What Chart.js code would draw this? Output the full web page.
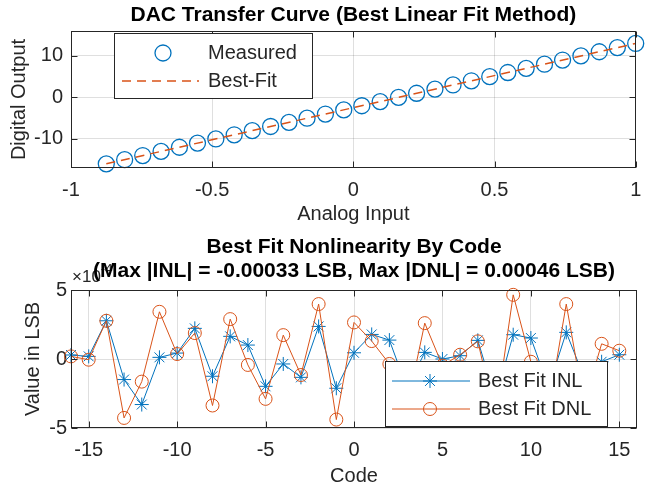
<!DOCTYPE html>
<html>
<head>
<meta charset="utf-8">
<script src="https://cdn.jsdelivr.net/npm/chart.js@4.4.1/dist/chart.umd.min.js"></script>
<style>
  html, body { margin: 0; padding: 0; background: #fff; }
  #wrap { position: relative; width: 645px; height: 495px; }
  canvas { position: absolute; left: 0; }
</style>
</head>
<body>
<div id="wrap">
  <canvas id="transfer" width="645" height="235" style="top:0"></canvas>
  <canvas id="nonlin" width="645" height="260" style="top:235px"></canvas>
</div>
<script>
// ---- data ----
const analogInput = [-0.875, -0.810, -0.746, -0.681, -0.616, -0.552, -0.487, -0.422, -0.358, -0.293,
                     -0.228, -0.164, -0.099, -0.034, 0.030, 0.095, 0.160, 0.224, 0.289, 0.353,
                     0.418, 0.483, 0.547, 0.612, 0.677, 0.741, 0.806, 0.871, 0.935, 1.000];
const measuredOutput = [-16, -15, -14, -13, -12, -11, -10, -9, -8, -7, -6, -5, -4, -3, -2, -1,
                        0, 1, 2, 3, 4, 5, 6, 7, 8, 9, 10, 11, 12, 13];
const fitInput = [-0.875, 1.0];
const fitOutput = [-16, 13];

const codes = [-16, -15, -14, -13, -12, -11, -10, -9, -8, -7, -6, -5, -4, -3, -2, -1,
               0, 1, 2, 3, 4, 5, 6, 7, 8, 9, 10, 11, 12, 13, 14, 15];
// values in units of 1e-4 LSB
const inlE4 = [0.29, 0.19, 2.77, -1.49, -3.30, 0.12, 0.43, 2.22, -1.25, 1.64, 1.01, -1.98, -0.36, -1.33, 2.36, -2.12,
               0.45, 1.78, 1.37, -2.12, 0.48, 0.00, 0.24, 1.35, -2.89, 1.76, 1.52, -2.05, 1.93, -1.30, -0.20, 0.31];
const dnlE4 = [0.19, -0.05, 2.77, -4.27, -1.64, 3.42, 0.36, 1.88, -3.37, 2.89, -0.43, -2.89, 1.73, -1.16, 3.98, -4.39,
               2.65, 1.30, -0.36, -3.49, 2.60, -0.48, 0.31, 1.28, -4.24, 4.65, -0.20, -3.57, 3.98, -3.23, 1.10, 0.60];

const topXTicks = [-1, -0.5, 0, 0.5, 1];
const topYTicks = [-10, 0, 10];
const botXTicks = [-15, -10, -5, 0, 5, 10, 15];
const botYTicks = [-5, 0, 5];

// ---- styling ----
const BLUE = "#0072BD";
const ORANGE = "#D95319";
const INK = "#262626";
const GRID = "rgba(38,38,38,0.15)";
const FONT = "'Liberation Sans', Arial, Helvetica, sans-serif";

Chart.defaults.font.family = FONT;
Chart.defaults.color = INK;

function setTicks(list) {
  return scale => { scale.ticks = list.map(v => ({ value: v })); };
}
const plain = v => String(v);

function drawStar(ctx, x, y, r) {
  ctx.beginPath();
  ctx.moveTo(x - r, y); ctx.lineTo(x + r, y);
  ctx.moveTo(x, y - r); ctx.lineTo(x, y + r);
  const d = r * 0.7071;
  ctx.moveTo(x - d, y - d); ctx.lineTo(x + d, y + d);
  ctx.moveTo(x - d, y + d); ctx.lineTo(x + d, y - d);
  ctx.stroke();
}

function drawCircle(ctx, x, y, r) {
  ctx.beginPath();
  ctx.arc(x, y, r, 0, Math.PI * 2);
  ctx.stroke();
}

// axes box, inward ticks, titles and legend in MATLAB style
function matlabLook(id, cfg) {
  return {
    id: id,
    afterDatasetsDraw(chart) {
      const ctx = chart.ctx;
      const a = chart.chartArea;
      const sx = chart.scales.x, sy = chart.scales.y;
      ctx.save();
      ctx.strokeStyle = INK;
      ctx.lineWidth = 1;
      const L = Math.round(a.left) + 0.5, R = Math.round(a.right) - 0.5;
      const T = Math.round(a.top) + 0.5, B = Math.round(a.bottom) - 0.5;
      ctx.strokeRect(L, T, R - L, B - T);
      ctx.beginPath();
      sx.ticks.forEach(t => {
        const px = Math.round(sx.getPixelForValue(t.value)) + 0.5;
        ctx.moveTo(px, B); ctx.lineTo(px, B - 6);
        ctx.moveTo(px, T); ctx.lineTo(px, T + 6);
      });
      sy.ticks.forEach(t => {
        const py = Math.round(sy.getPixelForValue(t.value)) + 0.5;
        ctx.moveTo(L, py); ctx.lineTo(L + 6, py);
        ctx.moveTo(R, py); ctx.lineTo(R - 6, py);
      });
      ctx.stroke();

      // exponent label
      if (cfg.exponent) {
        ctx.fillStyle = INK;
        ctx.textBaseline = "alphabetic";
        ctx.textAlign = "left";
        ctx.font = "17px " + FONT;
        ctx.fillText("\u00d710", a.left + 1, a.top - 8);
        const w = ctx.measureText("\u00d710").width;
        ctx.font = "13px " + FONT;
        ctx.fillText(cfg.exponent, a.left + 1 + w, a.top - 17);
      }

      // titles
      ctx.fillStyle = "#000";
      ctx.textAlign = "center";
      ctx.textBaseline = "middle";
      ctx.font = "bold 21px " + FONT;
      cfg.titles.forEach(t => ctx.fillText(t.text, (a.left + a.right) / 2, t.y));

      // legend
      const lg = cfg.legend;
      ctx.fillStyle = "#fff";
      ctx.fillRect(lg.x, lg.y, lg.w, lg.h);
      ctx.strokeStyle = INK;
      ctx.strokeRect(lg.x + 0.5, lg.y + 0.5, lg.w, lg.h);
      ctx.font = "20px " + FONT;
      ctx.textAlign = "left";
      ctx.textBaseline = "middle";
      lg.items.forEach(it => {
        it.draw(ctx, it.y);
        ctx.fillStyle = INK;
        ctx.fillText(it.label, lg.textX, it.y);
      });
      ctx.restore();
    }
  };
}

const xFit = s => { s.height = 67; s.paddingLeft = 0; s.paddingRight = 0; };

// ---- top chart: transfer curve ----
new Chart(document.getElementById("transfer"), {
  type: "scatter",
  data: {
    datasets: [
      {
        label: "Best-Fit",
        type: "line",
        data: fitInput.map((x, i) => ({ x: x, y: fitOutput[i] })),
        borderColor: ORANGE,
        borderWidth: 1.5,
        borderDash: [9, 6],
        pointRadius: 0,
        fill: false,
        order: 0
      },
      {
        label: "Measured",
        data: analogInput.map((x, i) => ({ x: x, y: measuredOutput[i] })),
        pointStyle: "circle",
        pointRadius: 8,
        pointBorderWidth: 1.3,
        borderColor: BLUE,
        backgroundColor: "rgba(0,0,0,0)",
        showLine: false,
        clip: false,
        order: 1
      }
    ]
  },
  options: {
    responsive: false,
    animation: false,
    devicePixelRatio: 1,
    layout: { padding: { top: 31, right: 8, left: 0, bottom: 0 } },
    plugins: { legend: { display: false }, tooltip: { enabled: false } },
    scales: {
      x: {
        type: "linear", min: -1, max: 1,
        afterBuildTicks: setTicks(topXTicks),
        afterFit: xFit,
        grid: { color: GRID, drawTicks: false },
        border: { display: false },
        ticks: { font: { size: 20 }, padding: 10, color: INK, callback: plain },
        title: { display: true, text: "Analog Input", font: { size: 20 }, color: INK, padding: { top: 0, bottom: 9 } }
      },
      y: {
        type: "linear", min: -17, max: 16,
        afterBuildTicks: setTicks(topYTicks),
        afterFit: s => { s.width = 71; },
        grid: { color: GRID, drawTicks: false },
        border: { display: false },
        ticks: { font: { size: 20 }, padding: 8, color: INK, callback: plain },
        title: { display: true, text: "Digital Output", font: { size: 20 }, color: INK, padding: { top: 7, bottom: 0 } }
      }
    }
  },
  plugins: [matlabLook("lookTop", {
    titles: [{ text: "DAC Transfer Curve (Best Linear Fit Method)", y: 15 }],
    legend: {
      x: 114, y: 33, w: 198, h: 65, textX: 208,
      items: [
        { label: "Measured", y: 53, draw: (ctx, y) => { ctx.strokeStyle = BLUE; ctx.lineWidth = 1.3; drawCircle(ctx, 163, y, 8); } },
        { label: "Best-Fit", y: 81, draw: (ctx, y) => {
            ctx.strokeStyle = ORANGE; ctx.lineWidth = 1.5; ctx.setLineDash([9, 6]);
            ctx.beginPath(); ctx.moveTo(122, y); ctx.lineTo(199, y); ctx.stroke(); ctx.setLineDash([]);
          } }
      ]
    }
  })]
});

// ---- bottom chart: INL / DNL ----
new Chart(document.getElementById("nonlin"), {
  type: "scatter",
  data: {
    datasets: [
      {
        label: "Best Fit DNL",
        data: codes.map((c, i) => ({ x: c, y: dnlE4[i] })),
        showLine: true,
        borderColor: ORANGE,
        borderWidth: 1,
        pointStyle: "circle",
        pointRadius: 6.5,
        pointBorderWidth: 1,
        backgroundColor: "rgba(0,0,0,0)",
        clip: false,
        order: 0
      },
      {
        label: "Best Fit INL",
        data: codes.map((c, i) => ({ x: c, y: inlE4[i] })),
        showLine: true,
        borderColor: BLUE,
        borderWidth: 1,
        pointStyle: "star",
        pointRadius: 7,
        pointBorderWidth: 1,
        backgroundColor: "rgba(0,0,0,0)",
        clip: false,
        order: 1
      }
    ]
  },
  options: {
    responsive: false,
    animation: false,
    devicePixelRatio: 1,
    layout: { padding: { top: 55, right: 8, left: 0, bottom: 0 } },
    plugins: { legend: { display: false }, tooltip: { enabled: false } },
    scales: {
      x: {
        type: "linear", min: -16, max: 16,
        afterBuildTicks: setTicks(botXTicks),
        afterFit: xFit,
        grid: { color: GRID, drawTicks: false },
        border: { display: false },
        ticks: { font: { size: 20 }, padding: 10, color: INK, callback: plain },
        title: { display: true, text: "Code", font: { size: 20 }, color: INK, padding: { top: 0, bottom: 7 } }
      },
      y: {
        type: "linear", min: -5, max: 5,
        afterBuildTicks: setTicks(botYTicks),
        afterFit: s => { s.width = 71; },
        grid: { color: GRID, drawTicks: false },
        border: { display: false },
        ticks: { font: { size: 20 }, padding: 4, color: INK, callback: plain },
        title: { display: true, text: "Value in LSB", font: { size: 20 }, color: INK, padding: { top: 21, bottom: 0 } }
      }
    }
  },
  plugins: [matlabLook("lookBottom", {
    exponent: "-4",
    titles: [
      { text: "Best Fit Nonlinearity By Code", y: 12 },
      { text: "(Max |INL| = -0.00033 LSB, Max |DNL| = 0.00046 LSB)", y: 36 }
    ],
    legend: {
      x: 385, y: 126, w: 222, h: 65, textX: 478,
      items: [
        { label: "Best Fit INL", y: 146, draw: (ctx, y) => {
            ctx.strokeStyle = BLUE; ctx.lineWidth = 1;
            ctx.beginPath(); ctx.moveTo(392, y); ctx.lineTo(470, y); ctx.stroke();
            drawStar(ctx, 430, y, 7);
          } },
        { label: "Best Fit DNL", y: 174, draw: (ctx, y) => {
            ctx.strokeStyle = ORANGE; ctx.lineWidth = 1;
            ctx.beginPath(); ctx.moveTo(392, y); ctx.lineTo(470, y); ctx.stroke();
            drawCircle(ctx, 430, y, 6.5);
          } }
      ]
    }
  })]
});
</script>
</body>
</html>
